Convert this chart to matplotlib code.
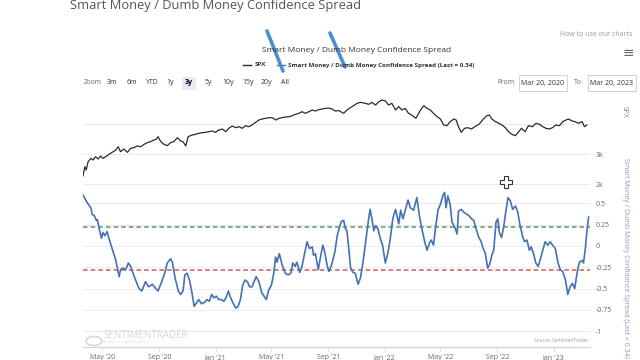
import numpy as np
import matplotlib
matplotlib.use("Agg")
import matplotlib.pyplot as plt
import matplotlib.dates as mdates
from matplotlib.lines import Line2D
from matplotlib.patches import FancyBboxPatch, Circle

plt.rcParams['font.family'] = ['Open Sans', 'DejaVu Sans']

# ---- data (days after 2020-03-20) ----
start = np.datetime64('2020-03-20')
end = np.datetime64('2023-03-20')

spx_days = [0, 4, 7, 11, 17, 22, 27, 33, 38, 43, 49, 56, 63, 71, 76, 81, 88, 96, 103, 110,
            117, 125, 132, 139, 146, 153, 158, 162, 168, 175, 182, 189, 196, 204, 211, 216,
            222, 227, 236, 243, 250, 257, 265, 272, 279, 286, 293, 301, 308, 315, 322, 330,
            337, 344, 351, 358, 365, 373, 380, 387, 394, 401, 409, 416, 423, 430, 437, 445,
            452, 459, 466, 473, 480, 488, 495, 502, 509, 516, 524, 531, 538, 545, 552, 563,
            570, 581, 592, 599, 610, 617, 624, 632, 639, 646, 653, 660, 667, 675, 682, 689,
            696, 703, 710, 719, 729, 736, 743, 750, 757, 765, 772, 779, 786, 793, 801, 806,
            811, 817, 824, 831, 839, 846, 855, 863, 872, 878, 883, 891, 898, 905, 912, 919,
            926, 934, 941, 947, 955, 962, 971, 978, 986, 993, 1000, 1007, 1014, 1021, 1029,
            1036, 1043, 1049, 1056, 1063, 1070, 1078, 1083, 1088]
spx = [2267, 2578, 2467, 2744, 2856, 2800, 2911, 2833, 2933, 2856, 2911, 2989, 3056, 3133,
       3244, 3078, 3167, 3056, 3189, 3211, 3267, 3244, 3322, 3378, 3411, 3467, 3489, 3578,
       3411, 3322, 3278, 3378, 3411, 3544, 3433, 3411, 3267, 3578, 3633, 3656, 3689, 3711,
       3722, 3744, 3767, 3722, 3800, 3833, 3744, 3856, 3933, 3878, 3911, 3856, 3944, 3911,
       3967, 4056, 4133, 4167, 4189, 4211, 4211, 4133, 4189, 4211, 4233, 4244, 4278, 4322,
       4356, 4411, 4356, 4411, 4467, 4433, 4478, 4500, 4522, 4530, 4500, 4433, 4450, 4356,
       4467, 4578, 4689, 4722, 4689, 4656, 4722, 4633, 4744, 4800, 4767, 4633, 4689, 4467,
       4578, 4467, 4522, 4356, 4300, 4189, 4467, 4611, 4522, 4467, 4356, 4244, 4167, 3967,
       3944, 4078, 4167, 4133, 3911, 3722, 3856, 3878, 3833, 3911, 3989, 4133, 4278, 4300,
       4167, 4078, 4022, 3967, 3878, 3744, 3656, 3611, 3744, 3856, 3744, 3944, 3911, 4022,
       3989, 3911, 3856, 3833, 3878, 3967, 3944, 4078, 4133, 4167, 4100, 4078, 4022, 4078,
       3911, 3967]

spread_days = [0, 9, 17, 20, 24, 29, 31, 35, 40, 43, 47, 52, 56, 63, 71, 78, 81, 86, 92, 98,
               103, 108, 115, 121, 127, 132, 135, 142, 150, 157, 162, 170, 177, 182, 189, 193,
               199, 206, 211, 216, 220, 225, 230, 236, 240, 245, 250, 256, 263, 268, 273, 278,
               283, 288, 293, 299, 304, 309, 314, 319, 324, 330, 335, 340, 345, 350, 355, 360,
               365, 374, 380, 386, 391, 396, 401, 407, 412, 416, 419, 424, 430, 437, 443, 449,
               453, 458, 462, 468, 473, 477, 484, 489, 495, 498, 502, 508, 513, 518, 522, 527,
               531, 537, 544, 549, 554, 558, 563, 567, 570, 574, 578, 583, 588, 594, 599, 604,
               610, 616, 620, 624, 628, 632, 637, 642, 647, 653, 659, 664, 669, 675, 678, 682,
               686, 691, 696, 702, 707, 714, 721, 727, 732, 738, 743, 748, 752, 757, 762, 767,
               772, 777, 781, 784, 788, 793, 797, 803, 808, 811, 817, 822, 827, 833, 839, 844,
               849, 855, 860, 863, 869, 874, 878, 883, 887, 892, 896, 899, 904, 909, 913, 918,
               923, 928, 934, 939, 944, 950, 954, 959, 964, 968, 973, 978, 983, 988, 993, 998,
               1004, 1009, 1014, 1020, 1026, 1031, 1036, 1042, 1047, 1052, 1057, 1062, 1067,
               1072, 1078, 1081, 1085, 1088, 1092]
spread = [0.60, 0.51, 0.45, 0.37, 0.36, 0.30, 0.31, 0.20, 0.09, 0.16, 0.12, 0.17, 0.09, -0.03,
          -0.17, -0.36, -0.28, -0.26, -0.28, -0.20, -0.24, -0.32, -0.42, -0.50, -0.53, -0.46,
          -0.42, -0.48, -0.45, -0.50, -0.53, -0.42, -0.31, -0.20, -0.15, -0.19, -0.38, -0.53,
          -0.57, -0.53, -0.34, -0.32, -0.40, -0.57, -0.71, -0.67, -0.63, -0.68, -0.66, -0.63,
          -0.65, -0.57, -0.61, -0.59, -0.63, -0.63, -0.65, -0.61, -0.53, -0.61, -0.67, -0.73,
          -0.71, -0.63, -0.46, -0.40, -0.42, -0.48, -0.48, -0.36, -0.42, -0.55, -0.59, -0.63,
          -0.52, -0.46, -0.32, -0.13, -0.19, -0.09, -0.22, -0.32, -0.34, -0.32, -0.20, -0.24,
          -0.19, -0.31, -0.24, -0.13, 0.05, -0.03, -0.01, -0.11, -0.09, -0.28, -0.13, 0.01,
          -0.07, -0.22, -0.30, -0.22, -0.07, 0.12, 0.22, 0.29, 0.30, 0.20, 0.18, -0.03, -0.26,
          -0.31, -0.32, -0.45, -0.38, -0.22, 0.03, 0.28, 0.43, 0.32, 0.18, 0.24, 0.20, 0.09,
          0.01, -0.20, -0.07, 0.10, 0.32, 0.43, 0.36, 0.26, 0.42, 0.32, 0.42, 0.54, 0.45, 0.42,
          0.57, 0.34, 0.20, 0.05, -0.05, 0.03, 0.07, 0.01, 0.24, 0.43, 0.49, 0.59, 0.63, 0.45,
          0.59, 0.49, 0.28, 0.22, 0.14, 0.41, 0.43, 0.40, 0.38, 0.36, 0.32, 0.30, 0.20, 0.10,
          0.05, -0.01, -0.09, -0.26, -0.22, -0.11, -0.05, 0.28, 0.32, 0.16, 0.10, 0.24, 0.40,
          0.57, 0.53, 0.43, 0.47, 0.40, 0.24, 0.10, 0.05, 0.07, -0.05, -0.01, -0.09, -0.20,
          -0.24, -0.15, -0.05, 0.05, 0.01, 0.05, 0.01, -0.03, -0.20, -0.28, -0.30, -0.40,
          -0.57, -0.48, -0.44, -0.50, -0.32, -0.19, -0.17, -0.20, -0.03, 0.16, 0.34]

upper_band = 0.225
lower_band = -0.285
spx_ticks = [2000, 3000, 4000]
spx_tick_labels = ['2k', '3k', '']
spread_ticks = [-1, -0.75, -0.5, -0.25, 0, 0.25, 0.5]
spread_tick_labels = ['-1', '-0.75', '-0.5', '-0.25', '0', '0.25', '0.5']
zoom_buttons = ['3m', '6m', 'YTD', '1y', '3y', '5y', '10y', '15y', '20y', 'All']
title = 'Smart Money / Dumb Money Confidence Spread'
series_name = 'Smart Money / Dumb Money Confidence Spread (Last = 0.34)'

spx_dates = start + np.array(spx_days).astype('timedelta64[D]')
spread_dates = start + np.array(spread_days).astype('timedelta64[D]')

W, H = 640, 360
def fx(p): return p / W
def fy(p): return 1 - p / H

fig = plt.figure(figsize=(6.4, 3.6), dpi=100)
fig.patch.set_facecolor('white')

ax = fig.add_axes([fx(83), fy(347), (590 - 83) / W, (347 - 95) / H])
ax2 = ax.twinx()

grid_c = '#e8e8e8'
lab_c = '#666666'

# spread axis
ax.set_ylim(-1.188, 1.776)
ax.set_yticks(spread_ticks)
ax.set_yticklabels(spread_tick_labels)
ax.yaxis.tick_right()
for t in spread_ticks:
    ax.axhline(t, color=grid_c, lw=0.6, zorder=0)
ax.axhline(upper_band, color='#5f9a5f', lw=1.1, ls=(0, (3, 2)), zorder=2)
ax.axhline(lower_band, color='#c65b5b', lw=1.1, ls=(0, (3, 2)), zorder=2)
ax.plot(spread_dates, spread, color='#4472b4', lw=1.2, zorder=3)

# spx axis
ax2.set_ylim(-3433, 4967)
ax2.set_yticks(spx_ticks)
ax2.set_yticklabels(spx_tick_labels)
for t in spx_ticks:
    ax2.axhline(t, color=grid_c, lw=0.6, zorder=0)
ax2.plot(spx_dates, spx, color='#2b2b2b', lw=0.9, zorder=3)

ax.set_xlim(start, end)
ax.xaxis.set_major_locator(mdates.MonthLocator(bymonth=[1, 5, 9]))
ax.xaxis.set_major_formatter(mdates.DateFormatter("%b '%y"))

for a in (ax, ax2):
    for s in ('top', 'left', 'right'):
        a.spines[s].set_visible(False)
    a.spines['bottom'].set_color('#ccd6eb')
    a.spines['bottom'].set_linewidth(0.8)
    a.tick_params(axis='y', length=0, pad=4, labelsize=5, labelcolor=lab_c)
ax.tick_params(axis='x', length=3, width=0.6, color='#ccd6eb', pad=2, labelsize=5, labelcolor=lab_c)

# axis titles
fig.text(fx(624), fy(112), 'SPX', rotation=270, ha='center', va='center', fontsize=5, color='#888888')
fig.text(fx(626), fy(258), series_name, rotation=270, ha='center', va='center', fontsize=5,
         color='#8a9cc0')

# headers
fig.text(fx(70), fy(6), title, ha='left', va='center', fontsize=9.3, color='#555555')
fig.text(fx(357), fy(50), title, ha='center', va='center', fontsize=6.0, color='#333333')
fig.text(fx(632), fy(35), 'How to use our charts', ha='right', va='center', fontsize=5, color='#9a9a9a')
fig.text(fx(628), fy(53), '\u2261', ha='center', va='center', fontsize=10, color='#666666',
         family='DejaVu Sans')

# legend
fig.add_artist(Line2D([fx(243), fx(251)], [fy(65), fy(65)], color='#2b2b2b', lw=1))
fig.text(fx(255), fy(65), 'SPX', ha='left', va='center', fontsize=4.5, color='#333333', weight='bold')
fig.add_artist(Line2D([fx(277), fx(285)], [fy(65), fy(65)], color='#4472b4', lw=1))
fig.text(fx(288), fy(65), series_name, ha='left', va='center', fontsize=4.5, color='#333333',
         weight='bold')

# range selector
fig.text(fx(84), fy(83), 'Zoom', ha='left', va='center', fontsize=4.8, color='#666666')
btn_x = [112, 132, 151, 170, 189, 208, 228, 248, 266, 285]
for b, bx in zip(zoom_buttons, btn_x):
    if b == '3y':
        fig.add_artist(FancyBboxPatch((fx(bx - 7), fy(90)), fx(14), 13 / H,
                                      boxstyle='round,pad=0,rounding_size=0.004',
                                      fc='#e6ebf5', ec='none'))
    fig.text(fx(bx), fy(83), b, ha='center', va='center', fontsize=5,
             color='#000000' if b == '3y' else '#333333', weight='bold' if b == '3y' else 'normal')
fig.text(fx(514), fy(83), 'From', ha='right', va='center', fontsize=5, color='#666666')
fig.text(fx(582), fy(83), 'To', ha='right', va='center', fontsize=5, color='#666666')
for cx, lab in ((543, 'Mar 20, 2020'), (612, 'Mar 20, 2023')):
    fig.add_artist(FancyBboxPatch((fx(cx - 24), fy(91)), fx(48), 16 / H, boxstyle='square,pad=0',
                                  fc='white', ec='#cccccc', lw=0.6))
    fig.text(fx(cx), fy(83), lab, ha='center', va='center', fontsize=5, color='#333333')

# watermark / source
fig.add_artist(Circle((fx(94), fy(341)), 8 / W, transform=fig.transFigure, fc='none',
                      ec='#d8d8d8', lw=1.2))
fig.text(fx(103), fy(336), 'SENTIMENTRADER', ha='left', va='center', fontsize=7, color='#d5d5d5')
fig.text(fx(103), fy(342), 'Analytics over Emotion', ha='left', va='center', fontsize=3,
         color='#dddddd')
fig.text(fx(588), fy(340), 'Source: SentimenTrader', ha='right', va='center', fontsize=3.5,
         color='#999999')

# hand-drawn arrows
for (x0, y0, x1, y1) in ((267, 31, 283, 71), (330, 33, 345, 67)):
    fig.add_artist(Line2D([fx(x0), fx(x1)], [fy(y0), fy(y1)], color='#4a8fd0', lw=2.6,
                          solid_capstyle='round'))

# mouse cursor
fig.add_artist(Line2D([fx(506)], [fy(182)], marker='P', ms=9, mfc='white', mec='#333333',
                      mew=0.8))

fig.savefig('out.png', dpi=100)
